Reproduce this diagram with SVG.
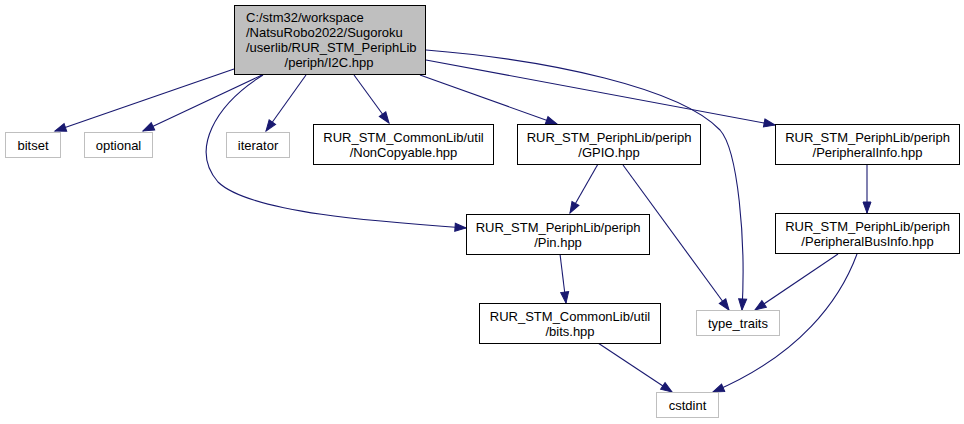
<svg xmlns="http://www.w3.org/2000/svg" width="964" height="424" viewBox="0 0 964 424">
<style>
text{font-family:"Liberation Sans",Arial,sans-serif;font-size:13px;fill:#000}
.c{text-anchor:middle}
.n{fill:#fff;stroke:#000;stroke-width:1}
.g{fill:#fff;stroke:#bfbfbf;stroke-width:1}
.m{fill:#bfbfbf;stroke:#000;stroke-width:1}
.e{fill:none;stroke:#191970;stroke-width:1.1;marker-end:url(#a)}
</style>
<defs>
<marker id="a" markerUnits="userSpaceOnUse" markerWidth="14" markerHeight="10" refX="11" refY="4" orient="auto" style="overflow:visible">
<path d="M0,0 L11,4 L0,8 z" fill="#191970" stroke="#191970" stroke-width="1"/>
</marker>
</defs>
<rect width="964" height="424" fill="#fff"/>
<g id="edges">
<path class="e" d="M234,69 L55,131"/>
<path class="e" d="M262,75 L143,131"/>
<path class="e" d="M306,75 L266,131"/>
<path class="e" d="M354,75 L389,123"/>
<path class="e" d="M420,75 L557,124"/>
<path class="e" d="M426,60 L775,125"/>
<path class="e" d="M426,50 C550,60 680,88 720,130 C738,150 746,240 742,310"/>
<path class="e" d="M263,75 C215,105 190,150 218,182 C250,213 380,222 466,228"/>
<path class="e" d="M598,164 L570,213"/>
<path class="e" d="M623,165 L729,310"/>
<path class="e" d="M560,254 L566,303"/>
<path class="e" d="M867,164 L867,213"/>
<path class="e" d="M838,254 L755,310"/>
<path class="e" d="M857,254 C840,300 800,355 713,392"/>
<path class="e" d="M598,343 L672,392"/>
</g>
<g id="main">
<rect class="m" x="234.5" y="5.5" width="191" height="69"/>
<text x="246" y="21.5">C:/stm32/workspace</text>
<text x="246" y="36.5">/NatsuRobo2022/Sugoroku</text>
<text x="246" y="51.5">/userlib/RUR_STM_PeriphLib</text>
<text class="c" x="329" y="66.5">/periph/I2C.hpp</text>
</g>
<g id="bitset">
<rect class="g" x="5.5" y="132.5" width="55" height="25"/>
<text class="c" x="33" y="149.5">bitset</text>
</g>
<g id="optional">
<rect class="g" x="84.5" y="132.5" width="68" height="25"/>
<text class="c" x="118.5" y="149.5">optional</text>
</g>
<g id="iterator">
<rect class="g" x="226.5" y="132.5" width="63" height="25"/>
<text class="c" x="258" y="149.5">iterator</text>
</g>
<g id="noncopyable">
<rect class="n" x="313.5" y="124.5" width="180" height="40"/>
<text class="c" x="403.5" y="141.5">RUR_STM_CommonLib/util</text>
<text class="c" x="403.5" y="156.5">/NonCopyable.hpp</text>
</g>
<g id="gpio">
<rect class="n" x="517.5" y="124.5" width="183" height="40"/>
<text class="c" x="609" y="141.5">RUR_STM_PeriphLib/periph</text>
<text class="c" x="609" y="156.5">/GPIO.hpp</text>
</g>
<g id="peripheralinfo">
<rect class="n" x="775.5" y="124.5" width="184" height="40"/>
<text class="c" x="867.5" y="141.5">RUR_STM_PeriphLib/periph</text>
<text class="c" x="867.5" y="156.5">/PeripheralInfo.hpp</text>
</g>
<g id="pin">
<rect class="n" x="466.5" y="214.5" width="183" height="40"/>
<text class="c" x="558" y="231.5">RUR_STM_PeriphLib/periph</text>
<text class="c" x="558" y="246.5">/Pin.hpp</text>
</g>
<g id="peripheralbusinfo">
<rect class="n" x="775.5" y="213.5" width="184" height="40"/>
<text class="c" x="867.5" y="230.5">RUR_STM_PeriphLib/periph</text>
<text class="c" x="867.5" y="245.5">/PeripheralBusInfo.hpp</text>
</g>
<g id="bits">
<rect class="n" x="479.5" y="303.5" width="181" height="40"/>
<text class="c" x="570" y="320.5">RUR_STM_CommonLib/util</text>
<text class="c" x="570" y="335.5">/bits.hpp</text>
</g>
<g id="type_traits">
<rect class="g" x="696.5" y="310.5" width="83" height="25"/>
<text class="c" x="738" y="327.5">type_traits</text>
</g>
<g id="cstdint">
<rect class="g" x="656.5" y="392.5" width="62" height="25"/>
<text class="c" x="687.5" y="409.5">cstdint</text>
</g>
</svg>
